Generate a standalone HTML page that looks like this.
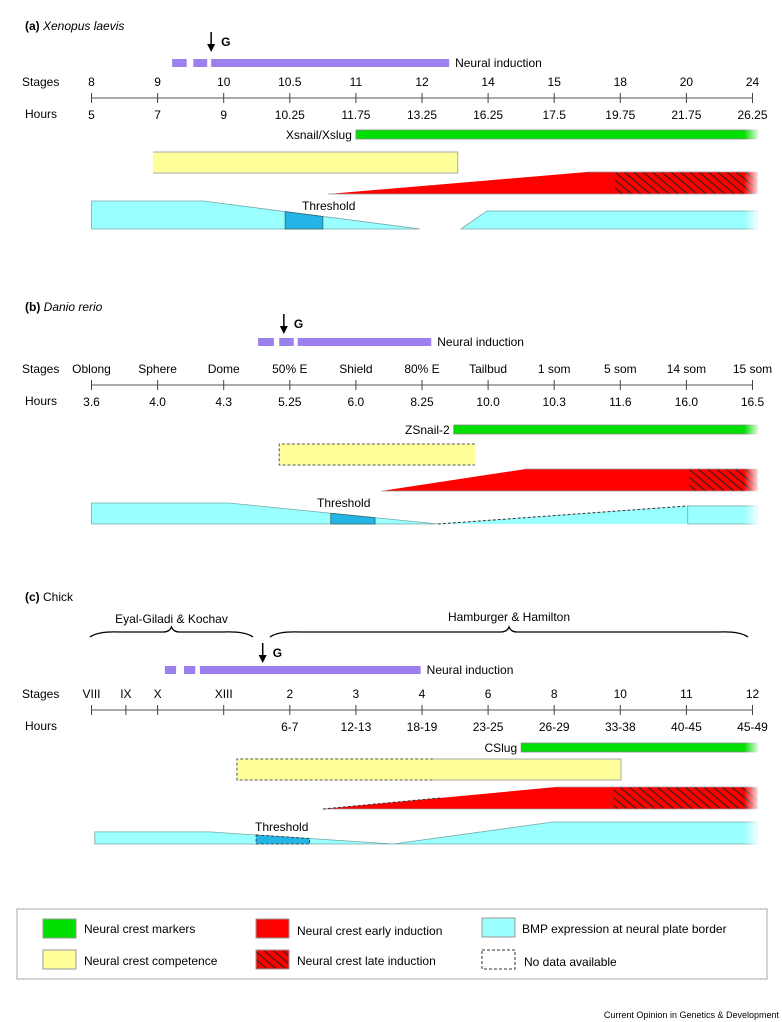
<!DOCTYPE html>
<html><head><meta charset="utf-8">
<style>
html,body{margin:0;padding:0;background:#fff;}
svg{display:block;font-family:"Liberation Sans",sans-serif;}
</style></head>
<body>
<svg id="chart" width="782" height="1022" viewBox="0 0 782 1022" xmlns="http://www.w3.org/2000/svg">
<defs>
<pattern id="hatch" patternUnits="userSpaceOnUse" width="6" height="6" patternTransform="rotate(40)">
<rect width="6" height="6" fill="#ff0000"/>
<line x1="0" y1="0.5" x2="6" y2="0.5" stroke="#222" stroke-width="1.1"/>
</pattern>
<linearGradient id="fade" x1="0" x2="1" y1="0" y2="0">
<stop offset="0" stop-color="#fff" stop-opacity="0"/>
<stop offset="1" stop-color="#fff" stop-opacity="1"/>
</linearGradient>
</defs>
<g id="panels"></g>
<g id="legend">
<rect x="17" y="909" width="750" height="70" fill="#fff" stroke="#aaa" stroke-width="1"/>
<rect x="43" y="919" width="33" height="19" fill="#00e000" stroke="#999"/>
<text x="84" y="933" font-size="12">Neural crest markers</text>
<rect x="43" y="950" width="33" height="19" fill="#ffff99" stroke="#999"/>
<text x="84" y="965" font-size="12">Neural crest competence</text>
<rect x="256" y="919" width="33" height="19" fill="#ff0000" stroke="#999"/>
<text x="297" y="935" font-size="12">Neural crest early induction</text>
<rect x="256" y="950" width="33" height="19" fill="url(#hatch)" stroke="#999"/>
<text x="297" y="965" font-size="12">Neural crest late induction</text>
<rect x="482" y="918" width="33" height="19" fill="#99ffff" stroke="#999"/>
<text x="522" y="933" font-size="12">BMP expression at neural plate border</text>
<rect x="482" y="950" width="33" height="19" fill="none" stroke="#333" stroke-dasharray="3,2"/>
<text x="524" y="966" font-size="12">No data available</text>
</g>
<text x="779" y="1018" font-size="9" text-anchor="end">Current Opinion in Genetics &amp; Development</text>
</svg>
<script>
// ---- data (positions expressed in stage-tick index units) ----
const stagesA = ["8","9","10","10.5","11","12","14","15","18","20","24"];
const hoursA = ["5","7","9","10.25","11.75","13.25","16.25","17.5","19.75","21.75","26.25"];
const niA = [[1.22,1.44],[1.54,1.75],[1.81,5.41]];
const gA = 1.81;
const markerA = [4.0,10.08];
const compA = [0.93,5.54];
const compDashA = [0.93,0.93];
const redA = [3.58,7.5,7.92,10.08];
const redDashA = 3.58;
const bmpA = [[0,1],[1.69,1],[4.97,0]];
const bmpRightA = [[5.59,0],[5.98,0.64],[10.08,0.64]];
const bmpDashA = [];
const threshA = [2.93,3.5];

const stagesB = ["Oblong","Sphere","Dome","50% E","Shield","80% E","Tailbud","1 som","5 som","14 som","15 som"];
const hoursB = ["3.6","4.0","4.3","5.25","6.0","8.25","10.0","10.3","11.6","16.0","16.5"];
const niB = [[2.52,2.76],[2.84,3.06],[3.12,5.14]];
const gB = 2.91;
const markerB = [5.48,10.08];
const compB = [2.84,5.8];
const compDashB = [2.84,5.8];
const redB = [4.38,6.57,9.04,10.08];
const redDashB = 4.38;
const bmpB = [[0,1],[2.08,1],[5.24,0]];
const bmpRightB = [[9.02,0.86],[9.02,0.86],[10.08,0.86]];
const bmpDashB = [[5.24,0],[9.02,0.86]];
const threshB = [3.62,4.29];

const stagesC = ["VIII","IX","X","XIII","2","3","4","6","8","10","11","12"];
const stagePosC = [0,0.52,1.0,2.0,3,4,5,6,7,8,9,10];
const hoursC = ["","","","","6-7","12-13","18-19","23-25","26-29","33-38","40-45","45-49"];
const niC = [[1.11,1.28],[1.4,1.57],[1.64,4.98]];
const gC = 2.59;
const markerC = [6.5,10.08];
const compC = [2.2,8.01];
const compDashC = [2.2,5.17];
const redC = [3.5,7.03,7.9,10.08];
const redDashC = 5.27;
const bmpC = [[0.05,0.55],[1.79,0.55],[4.56,0],[6.98,1],[10.08,1]];
const threshC = [2.49,3.3];

// ---- helpers ----
const NS="http://www.w3.org/2000/svg";
const root=document.getElementById('panels');
function X(i){return 91.5+i*66.1;}
function mk(tag,attrs,parent){const e=document.createElementNS(NS,tag);for(const k in attrs)e.setAttribute(k,attrs[k]);(parent||root).appendChild(e);return e;}
function txt(x,y,s,size,anchor,extra,parent){const t=mk('text',Object.assign({x:x,y:y,'font-size':size,'text-anchor':anchor||'start'},extra||{}),parent);t.textContent=s;return t;}
function interp(prof,i){for(let k=0;k<prof.length-1;k++){const a=prof[k],b=prof[k+1];if(i>=a[0]&&i<=b[0]){return b[0]===a[0]?a[1]:a[1]+(b[1]-a[1])*(i-a[0])/(b[0]-a[0]);}}return prof[prof.length-1][1];}

function panel(o){
  const g=mk('g',{});
  
  
  const t=mk('text',{x:25,y:o.titleY,'font-size':12},g);
  
  
  const b=mk('tspan',{'font-weight':'bold'},t);b.textContent=o.letter+"  ";
  const s=mk('tspan',o.italic?{'font-style':'italic'}:{},t);s.textContent=o.species;
  const ax=X(o.g);
  const ar=mk('line',{x1:ax,y1:o.gY,x2:ax,y2:o.gY+14,stroke:'#000','stroke-width':1.5},g);
  
  
  const ah=mk('polygon',{points:`${ax-4},${o.gY+12} ${ax+4},${o.gY+12} ${ax},${o.gY+20}`,fill:'#000'},g);
  
  
  const gt=txt(ax+10,o.gY+14,"G",12,'start',{'font-weight':'bold'},g);
  
  
  o.ni.forEach(seg=>{
    const r=mk('rect',{x:X(seg[0]),y:o.niY,width:X(seg[1])-X(seg[0]),height:8,fill:'#9b80ee'},g);
    
    
  });
  const nl=txt(X(o.ni[o.ni.length-1][1])+6,o.niY+8,"Neural induction",12,'start',{},g);
  
  
  const sl=txt(22,o.axY-12,"Stages",12,'start',{},g);
  
  
  const hl=txt(25,o.axY+20,"Hours",12,'start',{},g);
  
  
  const pos=o.stagePos||o.stages.map((_,i)=>i);
  const al=mk('line',{x1:X(pos[0]),y1:o.axY,x2:X(pos[pos.length-1]),y2:o.axY,stroke:'#777','stroke-width':1.2},g);
  
  
  o.stages.forEach((st,i)=>{
    const x=X(pos[i]);
    const tk=mk('line',{x1:x,y1:o.axY-5,x2:x,y2:o.axY+5,stroke:'#444','stroke-width':1},g);
    
    
    const l=txt(x,o.axY-12,st,12,'middle',{},g);
    
    
    if(o.hours[i]){const h=txt(x,o.axY+21,o.hours[i],12,'middle',{},g);
      
      }
  });
  const mx=X(o.marker[0]);
  const m=mk('rect',{x:mx,y:o.mY,width:X(o.marker[1])-mx,height:9,fill:'#00e000',stroke:'#888','stroke-width':0.8},g);
  
  
  const mlab=txt(mx-4,o.mY+9,o.markerName,12,'end',{},g);
  
  
  const c0=X(o.comp[0]),c1=X(o.comp[1]),d1=X(o.compDash[1]);
  const cr=mk('rect',{x:c0,y:o.cY,width:c1-c0,height:21,fill:'#ffff99'},g);
  
  
  if(d1>c0){
    const dp=mk('path',{d:`M${d1},${o.cY} H${c0} V${o.cY+21} H${d1}`,fill:'none',stroke:'#555','stroke-dasharray':'3,2'},g);
    
    
  }
  if(d1<c1){
    const sp=mk('path',{d:`M${d1},${o.cY} H${c1} V${o.cY+21} H${d1}`,fill:'none',stroke:'#aaa'},g);
    
    
  }
  const r0=X(o.red[0]),r1=X(o.red[1]),r2=X(o.red[2]),r3=X(o.red[3]),rb=o.rY+22,rt=o.rY;
  const rp=mk('polygon',{points:`${r0},${rb} ${r1},${rt} ${r3},${rt} ${r3},${rb}`,fill:'#ff0000'},g);
  
  
  const rh=mk('rect',{x:r2,y:rt,width:r3-r2,height:22,fill:'url(#hatch)'},g);
  
  
  const rl=mk('path',{d:`M${r0},${rb} H${r3} M${r1},${rt} H${r3}`,stroke:'#999','stroke-width':0.8,fill:'none'},g);
  
  
  const rd=X(o.redDash);
  if(rd>r0){
    const yd=rb-(rb-rt)*(rd-r0)/(r1-r0);
    const dl=mk('line',{x1:r0,y1:rb,x2:rd,y2:yd,stroke:'#333','stroke-dasharray':'3,2'},g);
    
    
  }
  const bb=o.bY, bh=o.bH;
  function bmpPoly(prof,name,stroke){
    let pts=prof.map(p=>`${X(p[0])},${bb-p[1]*bh}`);
    pts.push(`${X(prof[prof.length-1][0])},${bb}`);pts.push(`${X(prof[0][0])},${bb}`);
    const p=mk('polygon',{points:pts.join(' '),fill:'#99ffff',stroke:stroke||'#7aa','stroke-width':0.8},g);
    
    
  }
  bmpPoly(o.bmp,'bmp-expression-left');
  if(o.bmpDash.length){
    bmpPoly(o.bmpDash,'bmp-expression-no-data','none');
    const d=mk('line',{x1:X(o.bmpDash[0][0]),y1:bb-o.bmpDash[0][1]*bh,x2:X(o.bmpDash[1][0]),y2:bb-o.bmpDash[1][1]*bh,stroke:'#333','stroke-dasharray':'3,2'},g);
    
    
  }
  if(o.bmpRight.length) bmpPoly(o.bmpRight,'bmp-expression-right');
  const t0=o.thresh[0],t1=o.thresh[1];
  const tp=mk('polygon',{points:`${X(t0)},${bb-interp(o.bmp,t0)*bh} ${X(t1)},${bb-interp(o.bmp,t1)*bh} ${X(t1)},${bb} ${X(t0)},${bb}`,fill:'#22b5e5',stroke:o.threshDash?'#333':'#366','stroke-width':0.8,'stroke-dasharray':o.threshDash?'3,2':'none'},g);
  
  
  const tl=txt(o.threshLabelX,o.threshLabelY,"Threshold",12,'start',{},g);
  
  
  const f=mk('rect',{x:744,y:o.mY-1,width:16,height:bb-o.mY+3,fill:'url(#fade)'},g);
  
  
  return g;
}

panel({name:'panel-a-xenopus',letter:'(a)',species:'Xenopus laevis',italic:true,titleY:30,g:gA,gY:32,ni:niA,niY:59,
  stages:stagesA,hours:hoursA,axY:98,marker:markerA,markerName:'Xsnail/Xslug',mY:130,comp:compA,compDash:compDashA,cY:152,
  red:redA,redDash:redDashA,rY:172,bmp:bmpA,bmpRight:bmpRightA,bmpDash:bmpDashA,bY:229,bH:28,thresh:threshA,threshLabelX:302,threshLabelY:210});
panel({name:'panel-b-zebrafish',letter:'(b)',species:'Danio rerio',italic:true,titleY:311,g:gB,gY:314,ni:niB,niY:338,
  stages:stagesB,hours:hoursB,axY:385,marker:markerB,markerName:'ZSnail-2',mY:425,comp:compB,compDash:compDashB,cY:444,
  red:redB,redDash:redDashB,rY:469,bmp:bmpB,bmpRight:bmpRightB,bmpDash:bmpDashB,bY:524,bH:21,thresh:threshB,threshLabelX:317,threshLabelY:507});
panel({name:'panel-c-chick',letter:'(c)',species:'Chick',italic:false,titleY:601,g:gC,gY:643,ni:niC,niY:666,
  stages:stagesC,stagePos:stagePosC,hours:hoursC,axY:710,marker:markerC,markerName:'CSlug',mY:743,comp:compC,compDash:compDashC,cY:759,
  red:redC,redDash:redDashC,rY:787,bmp:bmpC,bmpRight:[],bmpDash:[],bY:844,bH:22,thresh:threshC,threshDash:true,threshLabelX:255,threshLabelY:831});

function brace(x0,x1,y,name,label,ly){
  const mid=(x0+x1)/2;
  const p=mk('path',{d:`M${x0},${y+4} Q${x0+8},${y-2} ${x0+30},${y-1} L${mid-8},${y-1} Q${mid-2},${y-1} ${mid},${y-6} Q${mid+2},${y-1} ${mid+8},${y-1} L${x1-30},${y-1} Q${x1-8},${y-2} ${x1},${y+4}`,fill:'none',stroke:'#000','stroke-width':1.3});
  
  
  const t=txt(mid,ly,label,12,'middle');
  
  
}
brace(90,253,633,'eyal-giladi-kochav-brace','Eyal-Giladi & Kochav',623);
brace(270,748,633,'hamburger-hamilton-brace','Hamburger & Hamilton',621);
</script>
</body></html>
